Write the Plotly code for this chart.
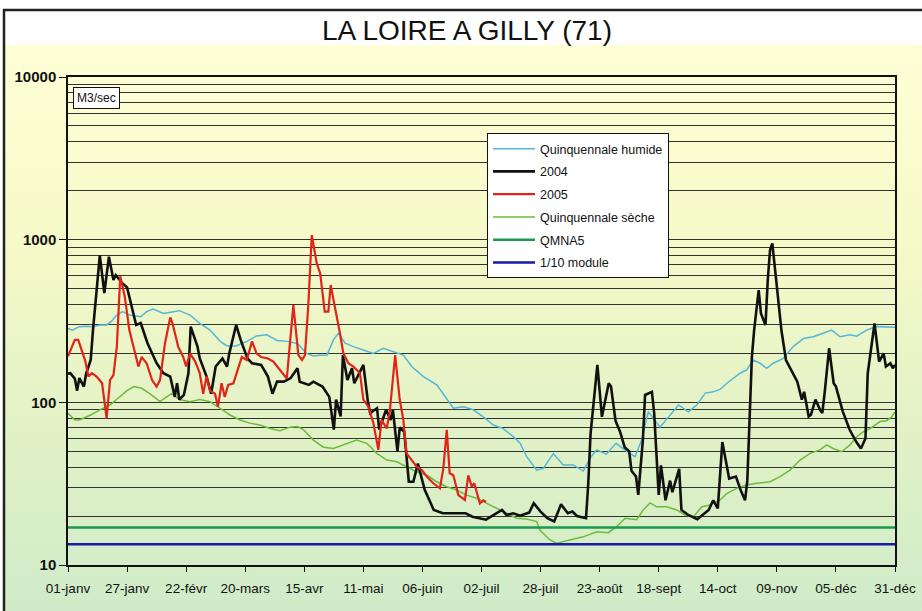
import base64
import plotly.graph_objects as go

# ---------------- data ----------------
tick_days = [0, 26, 52, 78, 104, 130, 156, 182, 208, 234, 260, 286, 312, 338, 364]
tick_labels = ["01-janv", "27-janv", "22-févr", "20-mars", "15-avr", "11-mai", "06-juin",
               "02-juil", "28-juil", "23-août", "18-sept", "14-oct", "09-nov", "05-déc", "31-déc"]

days_2004 = [0, 1, 3, 4, 5, 7, 8, 10, 11, 14, 16, 18, 20, 21, 24, 26, 30, 32, 35, 39, 42, 45, 47, 48,
             49, 51, 53, 54, 57, 58, 61, 63, 65, 68, 70, 71, 74, 76, 79, 81, 85, 88, 90, 92, 95, 98,
             101, 102, 106, 108, 112, 115, 117, 118, 120, 121, 123, 125, 126, 130, 132, 133, 136,
             137, 140, 142, 143, 145, 146, 148, 150, 152, 154, 155, 157, 161, 165, 175, 178, 184,
             189, 191, 193, 196, 199, 203, 205, 208, 211, 214, 217, 220, 222, 224, 228, 229, 230,
             233, 235, 238, 239, 241, 243, 245, 247, 248, 250, 251, 253, 254, 257, 258, 260, 261,
             263, 265, 266, 269, 270, 273, 277, 280, 282, 284, 286, 288, 290, 291, 294, 296, 298,
             299, 301, 302, 304, 305, 307, 308, 309, 310, 312, 314, 316, 321, 323, 324, 326, 327,
             329, 331, 332, 333, 335, 337, 338, 341, 344, 347, 349, 351, 352, 354, 355, 357, 359,
             360, 362, 363, 364]
q_2004 = [150, 151, 140, 118, 141, 125, 151, 182, 278, 800, 470, 785, 565, 605, 538, 509, 299, 307,
          231, 174, 151, 144, 108, 131, 104, 111, 151, 292, 220, 186, 144, 113, 166, 186, 166, 200,
          299, 242, 186, 174, 170, 144, 113, 134, 134, 141, 162, 134, 128, 134, 125, 108, 68, 104,
          82, 195, 137, 162, 131, 170, 101, 86, 92, 68, 90, 78, 90, 50, 70, 66, 32.5, 32.5, 42, 37,
          29, 21.8, 20.8, 20.8, 19.8, 19, 20.8, 21.8, 20.3, 20.8, 20.1, 21, 24, 21.3, 19.4, 18.5,
          23.6, 20.8, 21.3, 20, 19.4, 31.8, 64, 170, 81.5, 131, 125, 77, 66, 53, 50, 38, 35, 27, 58,
          111, 116, 86, 27, 41, 25, 33, 28, 39, 21.8, 20.3, 19.1, 20.8, 21.8, 25, 22.3, 57, 41, 34,
          35, 29, 25, 33, 190, 278, 490, 352, 299, 565, 863, 948, 514, 278, 182, 134, 104, 116, 82,
          84, 104, 90, 86, 113, 215, 131, 125, 88, 68, 57, 52, 60, 151, 231, 306, 178, 200, 166,
          174, 162, 170]

days_2005 = [0, 3, 4.5, 6, 7.5, 9, 10.5, 12.6, 15, 17, 18.5, 20, 21.5, 23, 25, 27, 29.5, 31, 32.4,
             34.6, 37, 39, 40.5, 42.7, 45, 46, 48.5, 50.7, 52, 53.7, 56, 58, 59.5, 61, 62.5, 64.7,
             66, 67.6, 69, 70.5, 72.8, 75, 76.5, 78.7, 81, 83, 85, 88, 90.4, 93.3, 96.3, 99.2,
             101.4, 103, 104.3, 105.8, 107.3, 109.5, 111, 113, 114.6, 115.6, 117.5, 119.7, 121.2,
             123.4, 125.6, 128.5, 130, 132.2, 134.4, 136.6, 138, 140.3, 141.7, 144, 146, 147.6, 149,
             151.3, 153.5, 155.7, 158, 160.8, 163.7, 165.2, 166.7, 168, 169.6, 171.8, 174.7, 176.2,
             177.7, 178.8, 181.3, 182.8, 184]
q_2005 = [192, 242, 242, 210, 182, 144, 151, 144, 131, 80, 137, 147, 220, 595, 446, 278, 200, 166,
          190, 174, 137, 125, 137, 231, 333, 306, 220, 190, 166, 200, 178, 151, 113, 144, 118, 113,
          94, 131, 108, 128, 131, 166, 190, 182, 237, 200, 190, 186, 178, 158, 140, 396, 195, 182,
          195, 405, 1067, 714, 621, 361, 361, 526, 387, 266, 200, 174, 166, 151, 104, 94, 74.5, 51,
          78, 69, 90, 195, 104, 78, 48.6, 44.2, 40.2, 38.3, 34.9, 31.8, 29.6, 39.3, 67.7, 36.6,
          35.6, 26.9, 25.1, 35.6, 30.3, 31.8, 23.9, 25, 24.5]

days_humide = [0, 2, 5, 8, 11, 14, 17, 19, 21.5, 24, 27, 32, 34.6, 37.5, 42, 46, 49, 53.7, 58, 62.5,
               67, 70, 74, 78.7, 83, 87.5, 92, 96.3, 101, 105, 108, 111, 114, 116.8, 119, 122,
               125.6, 130, 134.4, 138.8, 143.2, 147.6, 151.3, 156.4, 162.3, 166.7, 169.6, 174,
               178.4, 182.8, 187.2, 191.6, 196, 199, 201.9, 206.3, 209.2, 213.6, 218, 222.4, 226.8,
               229.8, 232.7, 237, 241.2, 245.9, 249.6, 252.5, 255.4, 260.6, 264.2, 268.7, 273.1,
               276.7, 280.5, 284, 287, 290, 295.8, 298.7, 301.6, 304.6, 307.5, 310.4, 314.8, 319.2,
               323.7, 328, 332.4, 336.1, 339.8, 344.2, 347.1, 351.5, 355.9, 360.3, 364]
q_humide = [285, 278, 292, 294, 292, 299, 299, 313, 344, 361, 344, 336, 361, 374, 352, 361, 366, 344,
            306, 278, 237, 222, 222, 237, 256, 260, 240, 237, 230, 200, 193, 195, 195, 242, 266, 231,
            220, 210, 200, 215, 205, 195, 166, 144, 128, 104, 92, 94, 90, 81.5, 72.5, 69, 61.5, 56,
            46.3, 38.3, 39.3, 48.4, 41.2, 41.2, 37.8, 45.5, 51, 48, 56, 50, 46.3, 58.6, 87.5, 70.4,
            81.5, 96.3, 87.5, 96.3, 114, 116, 120, 131, 151, 158, 182, 174, 162, 174, 186, 220, 247,
            253, 266, 278, 253, 260, 255, 278, 292, 289, 289]

days_seche = [0, 3, 5, 10, 14, 18.5, 22, 26, 29, 32.4, 36, 40.5, 43.4, 45.6, 49, 53.7, 58, 62.5, 67,
              71.3, 75.7, 80, 84.5, 89, 93.3, 97.7, 101, 103.6, 108, 112.4, 116.8, 121.2, 127, 131.5,
              135.9, 140.3, 144.7, 149, 153.5, 158, 162.3, 166.7, 171, 175.5, 179.9, 184.3, 188.7,
              193, 197.5, 201.9, 206.3, 207.7, 212, 215, 221, 226.8, 232.7, 237.8, 241.5, 245.2,
              250.3, 253.2, 256.2, 259.1, 263.5, 268, 271.6, 275.3, 279, 282.6, 287, 290, 294.3,
              298.7, 303.1, 309, 313.4, 317.8, 322.2, 326.6, 331, 333.9, 336.8, 340.5, 344.2, 347.1,
              350, 353, 357.4, 360.3, 362.6, 364]
q_seche = [85.5, 78, 78, 83.6, 89.8, 96.3, 106, 118, 125, 122, 113, 101, 108, 113, 104, 101, 104, 101,
           91.8, 83.6, 77.9, 74.5, 72.5, 69, 67, 70.4, 71, 68, 58.6, 53, 52, 54.7, 58.6, 56, 48.6,
           44.2, 43.1, 40.2, 37.4, 35.6, 32.5, 30.3, 28.9, 26.9, 25.7, 23.9, 22.3, 20.8, 19.4, 19.2,
           18.5, 16.4, 14.3, 13.6, 14.3, 14.9, 16, 15.8, 17.2, 19.4, 19, 21.8, 24.1, 22.8, 22.8, 21.8,
           20.3, 19.8, 22.8, 23.4, 25.1, 27.5, 29.6, 31, 31.8, 32.5, 34.9, 38.3, 44.2, 48.6, 51,
           54.7, 52, 49.7, 54.7, 61.5, 65.9, 69, 76.2, 77.1, 81.5, 87.5]

qmna5 = 17.0
dixieme_module = 13.4

# ---------------- figure ----------------
W, H = 922, 611
L, R, T, B = 68, 27, 77, 46
pw, ph = W - L - R, H - T - B


def px_x(px):
    return (px - L) / pw


def px_y(py):
    return (H - B - py) / ph


arial = "Liberation Sans, Arial, sans-serif"

fig = go.Figure()

fig.add_trace(go.Scatter(x=days_humide, y=q_humide, mode="lines", name="Quinquennale humide",
                         line=dict(color="#52B8DA", width=1.5), legendrank=1, legendgroup="a"))
fig.add_trace(go.Scatter(x=days_seche, y=q_seche, mode="lines", name="Quinquennale sèche",
                         line=dict(color="#6CBB3C", width=1.5), legendrank=4, legendgroup="d"))
fig.add_trace(go.Scatter(x=[tick_days[0], tick_days[-1]], y=[qmna5, qmna5], mode="lines", name="QMNA5",
                         line=dict(color="#1A9A4E", width=2.5), legendrank=5, legendgroup="e"))
fig.add_trace(go.Scatter(x=[tick_days[0], tick_days[-1]], y=[dixieme_module, dixieme_module], mode="lines",
                         name="1/10 module", line=dict(color="#1A1AA8", width=2.5), legendrank=6,
                         legendgroup="f"))
fig.add_trace(go.Scatter(x=days_2004, y=q_2004, mode="lines", name="2004",
                         line=dict(color="#111111", width=2.6), legendrank=2, legendgroup="b"))
fig.add_trace(go.Scatter(x=days_2005, y=q_2005, mode="lines", name="2005",
                         line=dict(color="#E02418", width=2.2), legendrank=3, legendgroup="c"))

# background gradient
svg = ('<svg xmlns="http://www.w3.org/2000/svg" width="100" height="100" viewBox="0 0 100 100" '
       'preserveAspectRatio="none"><defs><linearGradient id="g" x1="0" y1="0" x2="0" y2="1">'
       '<stop offset="0" stop-color="#FFFFD6"/><stop offset="0.35" stop-color="#F6F9C8"/>'
       '<stop offset="0.7" stop-color="#E0F1C6"/><stop offset="1" stop-color="#CFEBC9"/>'
       '</linearGradient></defs><rect x="0" y="0" width="100" height="100" fill="url(#g)"/></svg>')
src = "data:image/svg+xml;base64," + base64.b64encode(svg.encode()).decode()

minor_vals = [m * 10 ** e for e in (1, 2, 3) for m in range(2, 10)]

fig.update_layout(
    width=W, height=H,
    margin=dict(l=L, r=R, t=T, b=B, autoexpand=False),
    paper_bgcolor="white",
    plot_bgcolor="rgba(0,0,0,0)",
    images=[dict(source=src, xref="paper", yref="paper", x=px_x(5), y=px_y(45),
                 sizex=px_x(W + 5) - px_x(5), sizey=px_y(45) - px_y(H + 5),
                 xanchor="left", yanchor="top", sizing="stretch", layer="below")],
    shapes=[dict(type="rect", xref="paper", yref="paper", x0=px_x(4), y0=px_y(H + 20),
                 x1=px_x(W + 20), y1=px_y(10), line=dict(color="#222222", width=2.5),
                 fillcolor="rgba(0,0,0,0)", layer="below")],
    title=dict(text="LA LOIRE A GILLY (71)", x=px_x(467), xanchor="center", xref="paper",
               y=1 - 30 / H, yanchor="middle", font=dict(family=arial, size=28, color="#111111")),
    showlegend=True,
    legend=dict(x=px_x(487), y=px_y(133), xanchor="left", yanchor="top",
                bgcolor="white", bordercolor="#111111", borderwidth=1,
                font=dict(family=arial, size=12.5, color="#111111"),
                tracegroupgap=3.5, traceorder="grouped", itemwidth=42),
    xaxis=dict(range=[tick_days[0], tick_days[-1]], tickmode="array", tickvals=tick_days,
               ticktext=tick_labels, showgrid=False, zeroline=False, automargin=False,
               showline=True, linecolor="#111111", linewidth=1.5, mirror=True,
               ticks="outside", ticklen=5, tickcolor="#111111", ticklabelstandoff=5,
               tickfont=dict(family=arial, size=13.5, color="#111111")),
    yaxis=dict(type="log", range=[1, 4], tickmode="array", tickvals=[10, 100, 1000, 10000],
               ticktext=["<b>10</b>", "<b>100</b>", "<b>1000</b>", "<b>10000</b>"],
               showgrid=True, gridcolor="#333333", gridwidth=1.4, zeroline=False, automargin=False,
               showline=True, linecolor="#111111", linewidth=1.5, mirror=True,
               ticks="outside", ticklen=7, tickcolor="#111111",
               tickfont=dict(family=arial, size=15, color="#111111"),
               minor=dict(tickmode="array", tickvals=minor_vals, showgrid=True,
                          gridcolor="#333333", gridwidth=1.4, ticks="", ticklen=0)),
    annotations=[dict(text="M3/sec", xref="paper", yref="paper", x=px_x(73), y=px_y(87),
                      xanchor="left", yanchor="top", showarrow=False,
                      font=dict(family=arial, size=12, color="#111111"),
                      bgcolor="white", bordercolor="#111111", borderwidth=1, borderpad=3)],
)

fig.write_html("out.html", config={"displayModeBar": False},
               post_script="document.body.style.margin='0';document.body.style.overflow='hidden';")
